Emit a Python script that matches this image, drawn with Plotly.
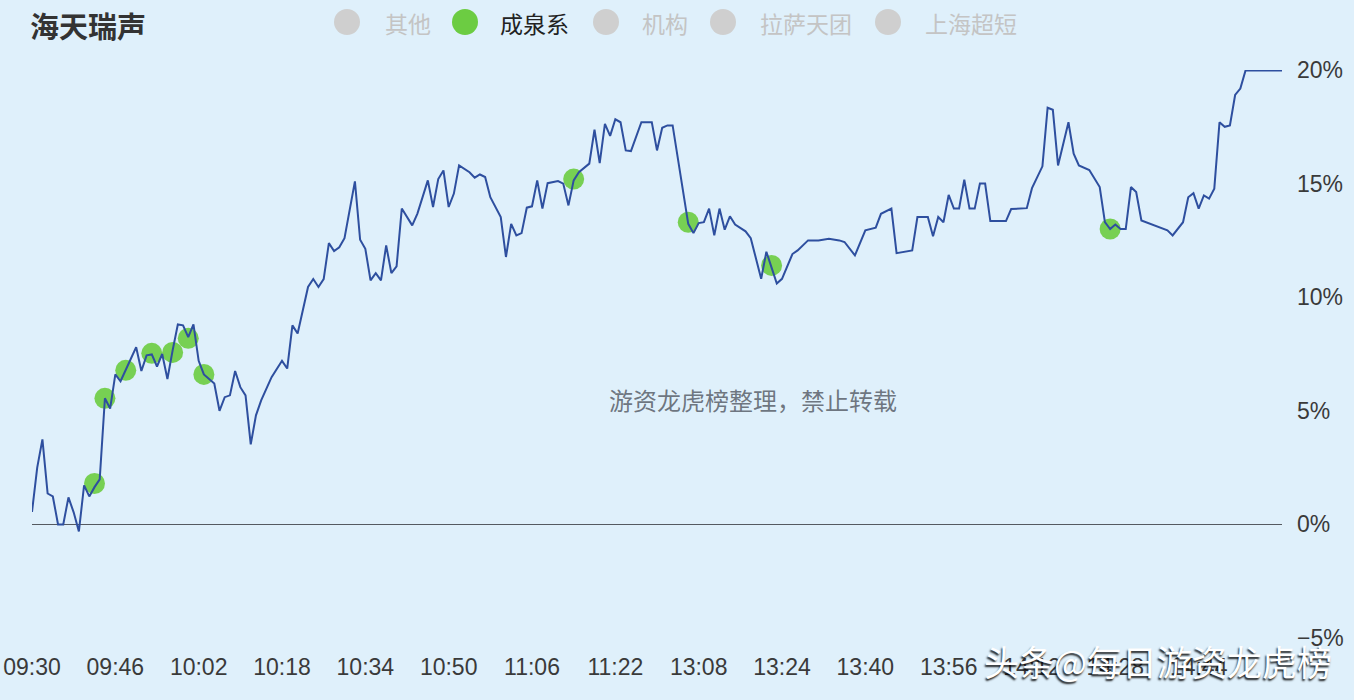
import plotly.graph_objects as go

# ---- data (minutes since 09:30 on a continuous trading clock; 11:30 -> 13:00 merged) ----
minutes = [0, 1, 2, 3, 4, 5, 6, 7, 8, 9, 10, 11, 12, 13, 14, 15, 16, 17, 19, 20,
           21, 22, 23, 24, 25, 26, 27, 28, 29, 30, 31, 32, 33, 34, 35, 36, 37, 38, 39, 40,
           41, 42, 43, 44, 45, 46, 48, 49, 50, 51, 53, 54, 55, 56, 57, 58, 59, 60, 62, 63,
           64, 65, 66, 67, 68, 69, 70, 71, 73, 74, 76, 77, 78, 79, 80, 81, 82, 84, 85, 86,
           87, 88, 90, 91, 92, 93, 94, 95, 96, 97, 98, 99, 101, 102, 103, 104, 105, 106, 107, 108,
           109, 110, 111, 112, 113, 114, 115, 117, 119, 120, 121, 122, 123, 126, 127, 128, 129, 130, 131, 132,
           133, 134, 135, 137, 138, 140, 141, 142, 143, 144, 146, 147, 149, 151, 153, 155, 156, 158, 160, 162,
           163, 165, 166, 169, 170, 172, 173, 174, 175, 176, 177, 178, 179, 180, 181, 182, 183, 184, 187, 188,
           191, 192, 194, 195, 196, 197, 199, 200, 201, 203, 204, 205, 206, 207, 208, 209, 210, 211, 212, 213,
           218, 219, 221, 222, 223, 224, 225, 226, 227, 228, 229, 230, 231, 232, 233, 240]
pct = [0.55, 2.5, 3.74, 1.36, 1.23, 0.0, 0.0, 1.19, 0.53, -0.31, 1.72, 1.23, 1.64, 1.98, 5.55, 5.1, 6.6, 6.3, 7.3, 7.8,
       6.75, 7.44, 7.48, 6.95, 7.5, 6.4, 7.66, 8.8, 8.76, 8.24, 8.8, 7.2, 6.6, 6.4, 6.2, 5.0, 5.6, 5.68, 6.75, 6.04,
       5.68, 3.52, 4.8, 5.46, 5.98, 6.48, 7.2, 6.86, 8.76, 8.4, 10.45, 10.8, 10.45, 10.8, 12.38, 12.03, 12.2, 12.6, 15.1, 12.53,
       12.13, 10.74, 11.06, 10.74, 12.28, 11.06, 11.36, 13.9, 13.16, 13.68, 15.14, 13.97, 15.2, 15.58, 13.97, 14.56, 15.8, 15.5, 15.26, 15.4,
       15.29, 14.4, 13.53, 11.77, 13.23, 12.72, 12.82, 13.94, 14.0, 15.14, 13.9, 15.02, 15.11, 15.0, 14.04, 15.14, 15.5, 15.7, 15.88, 17.37,
       15.9, 17.63, 17.1, 17.83, 17.7, 16.46, 16.43, 17.7, 17.7, 16.46, 17.46, 17.56, 17.56, 13.23, 12.82, 13.26, 13.3, 13.9, 12.72, 13.9,
       12.97, 13.56, 13.2, 12.9, 12.6, 10.81, 12.0, 11.3, 10.6, 10.81, 11.9, 12.06, 12.5, 12.5, 12.57, 12.5, 12.43, 11.84, 12.94, 13.06,
       13.67, 13.9, 11.94, 12.06, 13.53, 13.53, 12.68, 13.53, 13.3, 14.5, 13.9, 13.9, 15.17, 13.9, 13.9, 15.0, 15.0, 13.35, 13.35, 13.88,
       13.92, 14.8, 15.76, 18.34, 18.25, 15.8, 17.7, 16.32, 15.8, 15.6, 15.2, 14.85, 13.3, 13.0, 13.2, 13.0, 13.0, 14.85, 14.63, 13.38,
       12.94, 12.72, 13.3, 14.4, 14.58, 13.9, 14.48, 14.34, 14.78, 17.7, 17.5, 17.56, 18.9, 19.18, 19.98, 19.98]

# trades by 成泉系
trade_minutes = [12, 14, 18, 23, 27, 30, 33, 104, 126, 142, 207]
trade_pct = [1.8, 5.55, 6.78, 7.53, 7.57, 8.19, 6.6, 15.2, 13.3, 11.4, 13.0]

tick_minutes = [0, 16, 32, 48, 64, 80, 96, 112, 128, 144, 160, 176, 192, 208, 224]
tick_labels = ["09:30", "09:46", "10:02", "10:18", "10:34", "10:50", "11:06", "11:22",
               "13:08", "13:24", "13:40", "13:56", "14:12", "14:28", "14:44"]
y_ticks = [-5, 0, 5, 10, 15, 20]
y_labels = ["−5%", "0%", "5%", "10%", "15%", "20%"]

legend_names = ["其他", "成泉系", "机构", "拉萨天团", "上海超短"]
legend_active = [False, True, False, False, False]

title = "海天瑞声"
watermark_center = "游资龙虎榜整理，禁止转载"
watermark_corner = "头条@每日游资龙虎榜"

# ---- layout geometry ----
W, H = 1354, 700
L, R, T, B = 32, 72, 70, 62
PW, PH = W - L - R, H - T - B


def px(x):
    return (x - L) / PW


def py(y):
    return (H - B - y) / PH


BG = "#dff0fb"
CJK = "Noto Sans CJK SC"

fig = go.Figure()
fig.add_trace(go.Scatter(
    x=trade_minutes, y=trade_pct, mode="markers",
    marker=dict(size=21, color="rgba(108,204,64,0.9)", line=dict(width=0)),
    hoverinfo="skip", showlegend=False))
fig.add_trace(go.Scatter(
    x=minutes, y=pct, mode="lines",
    line=dict(color="#2e4f9f", width=2),
    showlegend=False))

shapes = []
annotations = []

# title
annotations.append(dict(text=title, x=px(28), y=py(25), xref="paper", yref="paper",
                        xanchor="left", yanchor="middle", showarrow=False,
                        font=dict(family=CJK, size=29, color="#333333", weight=700)))

# custom legend
circle_x = [347, 465, 606, 723, 888]
text_x = [383, 498, 640, 758, 923]
for name, active, cx, tx in zip(legend_names, legend_active, circle_x, text_x):
    r = 13
    shapes.append(dict(type="circle", xref="paper", yref="paper",
                       x0=px(cx - r), x1=px(cx + r), y0=py(22 + r), y1=py(22 - r),
                       fillcolor="#6ccc42" if active else "#cfcfcf", line=dict(width=0)))
    annotations.append(dict(text=name, x=px(tx), y=py(23), xref="paper", yref="paper",
                            xanchor="left", yanchor="middle", showarrow=False,
                            font=dict(family=CJK, size=23,
                                      color="#222222" if active else "#c4c4c4")))

# watermarks
annotations.append(dict(text=watermark_center, x=px(753), y=py(399), xref="paper", yref="paper",
                        xanchor="center", yanchor="middle", showarrow=False,
                        font=dict(family=CJK, size=24, color="rgba(90,96,106,0.85)")))
annotations.append(dict(text=watermark_corner, x=px(1158), y=py(660), xref="paper", yref="paper",
                        xanchor="center", yanchor="middle", showarrow=False,
                        font=dict(family=CJK, size=35, color="#ffffff",
                                  shadow="-1px 2px 2px rgba(0,0,0,0.9)")))

fig.update_layout(
    width=W, height=H,
    margin=dict(l=L, r=R, t=T, b=B, pad=0, autoexpand=False),
    paper_bgcolor=BG, plot_bgcolor=BG,
    shapes=shapes, annotations=annotations,
    showlegend=False,
    xaxis=dict(range=[0, 240], tickvals=tick_minutes, ticktext=tick_labels,
               showgrid=False, zeroline=False, showline=False, ticks="",
               ticklabelstandoff=13, automargin=False,
               tickfont=dict(family="Liberation Sans", size=23, color="#3a3a3a")),
    yaxis=dict(range=[-5, 20], side="right", tickvals=y_ticks, ticktext=y_labels,
               showgrid=False, zeroline=True, zerolinecolor="#555a60", zerolinewidth=1.3,
               showline=False, ticks="", ticklabelstandoff=14, automargin=False,
               tickfont=dict(family="Liberation Sans", size=23, color="#3a3a3a")),
)

fig.write_html("out.html", config={"displayModeBar": False},
               post_script="document.body.style.margin='0';document.body.style.background='%s';" % BG)
